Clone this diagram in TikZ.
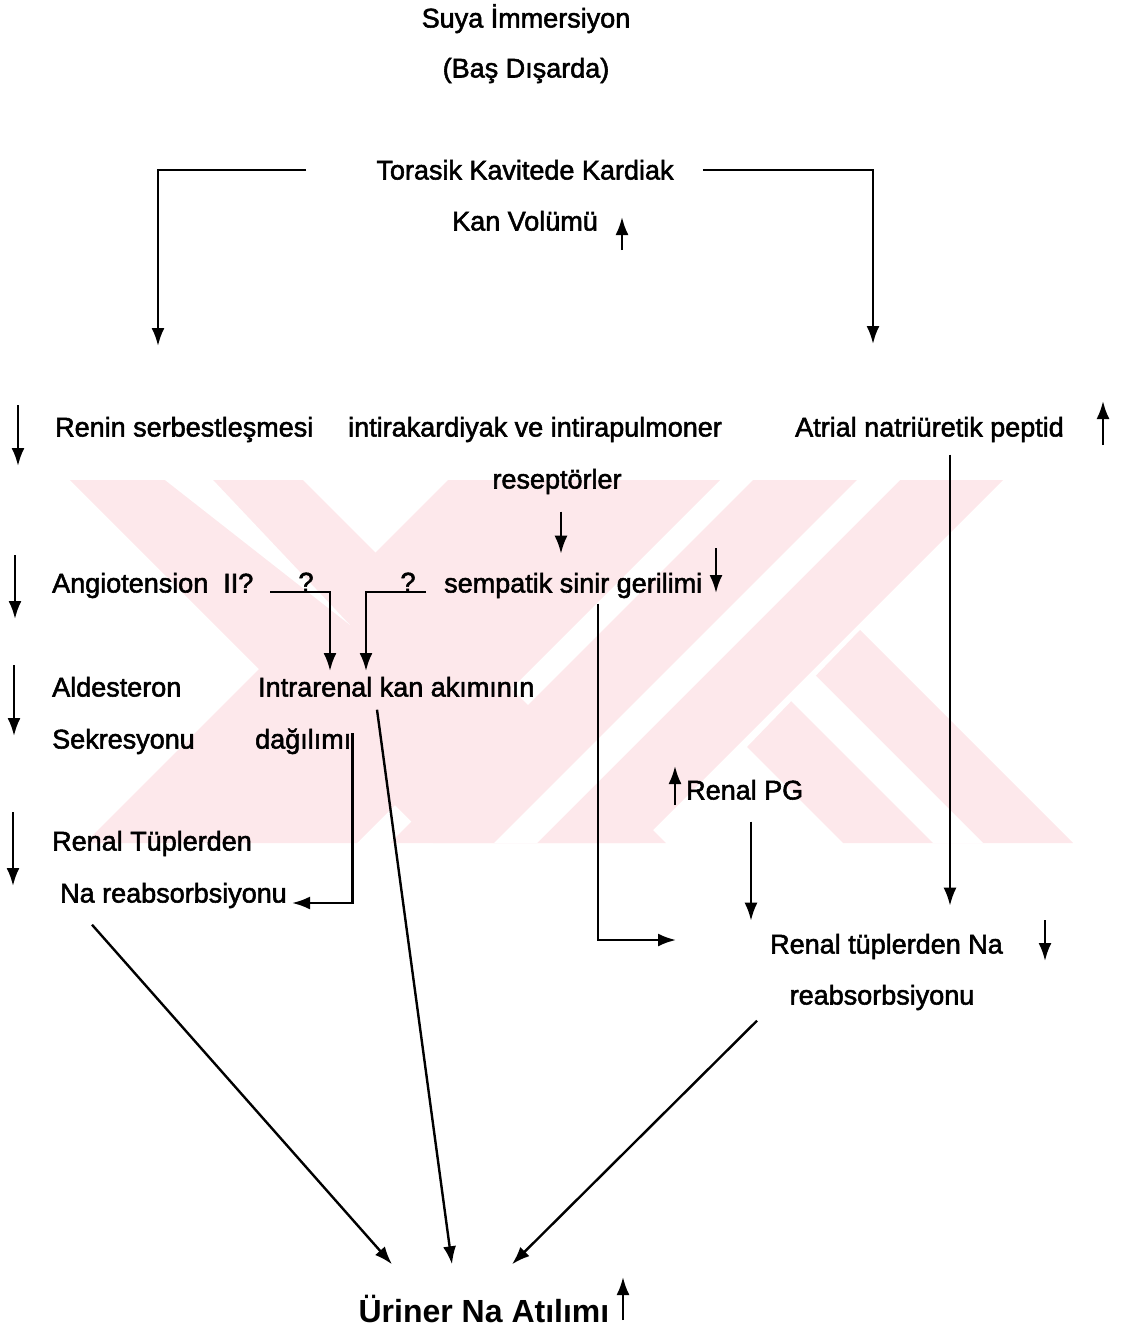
\documentclass[tikz,border=0pt]{standalone}
\usepackage{fontspec}
\setmainfont{Liberation Sans}
\newfontfamily\scanfont{Liberation Sans}[FakeBold=2]
\usetikzlibrary{positioning,
                arrows.meta}                % arrow tips

\definecolor{wmpink}{RGB}{253,232,235}

\tikzset{
  txt/.style={inner sep=0pt, text height=19pt, text depth=0pt,
              font=\scanfont\fontsize{27}{32}\selectfont},
  arr/.style={-{Latex[length=18pt,width=13pt]}, line width=2.4pt}
}

\begin{document}
\begin{tikzpicture}[x=1pt,y=-1pt]
      \useasboundingbox (0,0) rectangle (1120,1330);

      % watermark
      \begin{scope}
        \clip (70,480) rectangle (1080,843);
        \fill[wmpink] (70,480) -- (303,480) -- (666,843) -- (433,843) -- cycle;
        \fill[wmpink] (448,480) -- (720,480) -- (357,843) -- (85,843) -- cycle;
        \fill[wmpink] (753,480) -- (1003,480) -- (640,843) -- (390,843) -- cycle;
        \fill[wmpink] (747,747) -- (860,630) -- (1073,843) -- (843,843) -- cycle;
        \fill[white] (165,480) -- (213,480) -- (350,625) -- cycle;
        \fill[white] (857,480) -- (900,480) -- (537,843) -- (494,843) -- cycle;
        \fill[white] (790,700) -- (815,675) -- (983,843) -- (933,843) -- cycle;
      \end{scope}

      \node[txt] (suya) at (526,18) {Suya İmmersiyon};
      \node[txt] (bas) at (526,68) {(Baş Dışarda)};
      \node[txt] (tor) at (525,170) {Torasik Kavitede Kardiak};
      \node[txt] (kan) at (525,221) {Kan Volümü};

      \node[txt, anchor=west] (renin) at (55,427) {Renin serbestleşmesi};
      \node[txt, anchor=west] (intra) at (348,427) {intirakardiyak ve intirapulmoner};
      \node[txt] (res) at (557,479) {reseptörler};
      \node[txt, anchor=west] (anp) at (795,427) {Atrial natriüretik peptid};

      \node[txt, anchor=west] (ang) at (52,583) {Angiotension\ \ II?};
      \node[txt] (q1) at (306,582) {?};
      \node[txt] (q2) at (408,582) {?};
      \node[txt, anchor=west] (semp) at (444,583) {sempatik sinir gerilimi};

      \node[txt, anchor=west] (ald) at (52,687) {Aldesteron};
      \node[txt, anchor=west] (irk) at (258,687) {Intrarenal kan akımının};
      \node[txt, anchor=west] (sek) at (52,739) {Sekresyonu};
      \node[txt, anchor=west] (dag) at (255,739) {dağılımı};
      \node[txt, anchor=west] (pg) at (686,790) {Renal PG};

      \node[txt, anchor=west] (rtl) at (52,841) {Renal Tüplerden};
      \node[txt, anchor=west] (nal) at (60,893) {Na reabsorbsiyonu};
      \node[txt, anchor=west] (rtr) at (770,944) {Renal tüplerden Na};
      \node[txt] (nar) at (882,995) {reabsorbsiyonu};

      \node[txt, font=\bfseries\fontsize{32}{36}\selectfont, text height=23pt]
        (uri) at (484,1311) {Üriner Na Atılımı};

      % up and down marks next to the texts
      \foreach \x/\ya/\yb in {18/405/466, 15/555/619, 14/665/736, 13/812/886,
                              716/548/593, 1045/920/961,
                              622/250/217, 1103/445/401, 675/805/766, 623/1320/1277}
      { \draw[arr] (\x,\ya) -- (\x,\yb);
      }

      \coordinate (lft) at (158,346);
      \coordinate (rgt) at (873,344);
      \coordinate (ir1) at (330,671);
      \coordinate (ir2) at (366,671);

      \draw[arr] ([xshift=-70pt]tor.west) -| (lft);
      \draw[arr] ([xshift=29pt]tor.east) -| (rgt);
      \draw[arr] ([xshift=4pt,yshift=-23pt]res.south) -- ++(0,42);
      \draw[arr] ([xshift=-36pt]q1.south) -| (ir1);
      \draw[arr] ([xshift=18pt]q2.south) -| (ir2);
      \draw[arr] ([xshift=154pt,yshift=-11pt]semp.south west) |- ([xshift=-94pt,yshift=4pt]rtr.west);
      \draw[arr] ([xshift=1pt,yshift=6pt]dag.east) |- ([xshift=5pt,yshift=-10pt]nal.east);
      \draw[arr] ([xshift=65pt,yshift=-22pt]pg.south west) -- ++(0,99);
      \draw[arr] ([xshift=155pt,yshift=-18pt]anp.south west) -- ++(0,451);

      \draw[arr] ([xshift=32pt,yshift=-22pt]nal.south west) -- ([xshift=-92pt,yshift=35pt]uri.north);
      \draw[arr] ([xshift=119pt,yshift=-13pt]irk.south west) -- ([xshift=-32pt,yshift=35pt]uri.north);
      \draw[arr] ([xshift=-125pt,yshift=-16pt]nar.south) -- ([xshift=28pt,yshift=35pt]uri.north);

    \end{tikzpicture}
\end{document}
